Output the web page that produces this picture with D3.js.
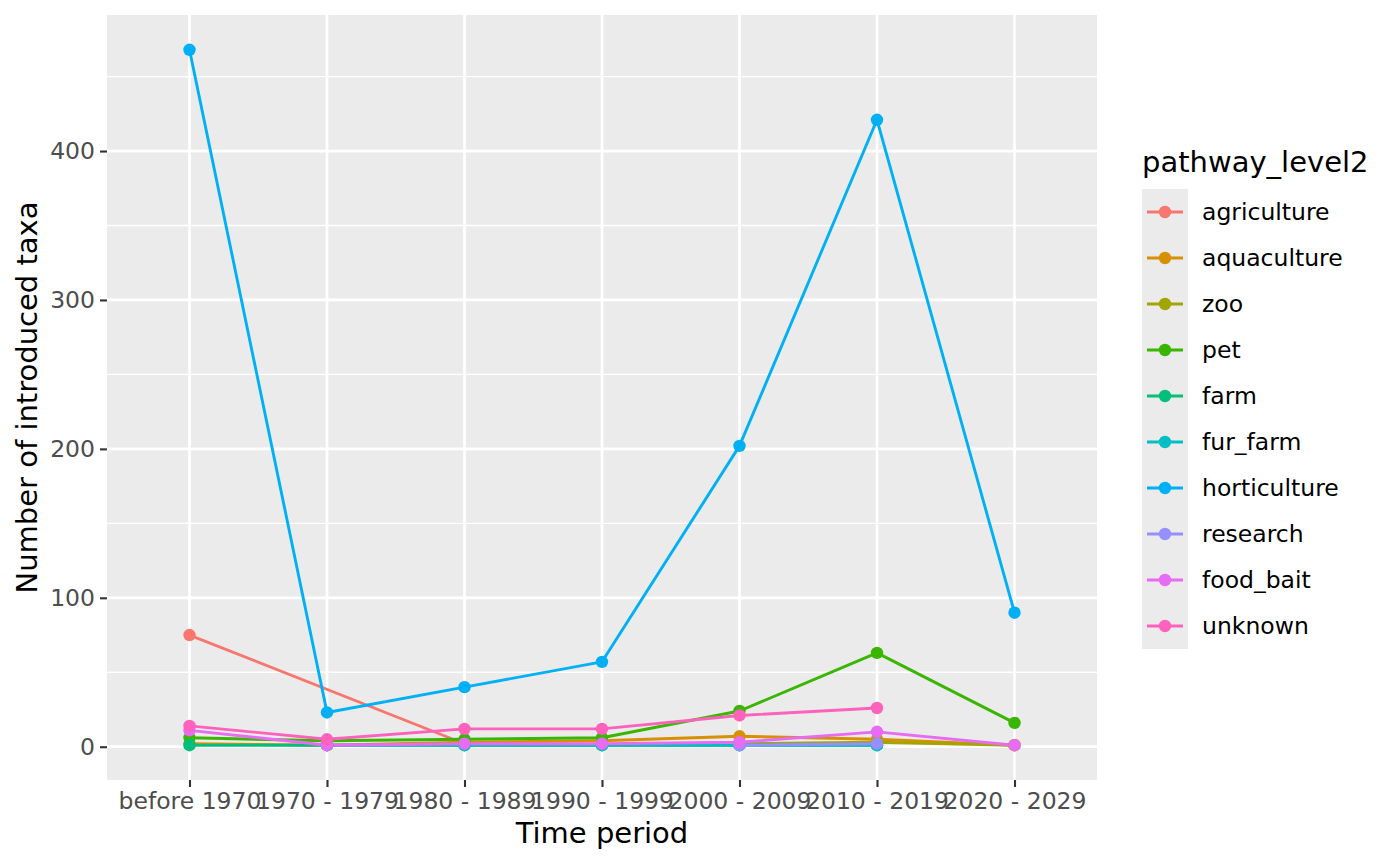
<!DOCTYPE html>
<html>
<head>
<meta charset="utf-8">
<script src="https://cdn.jsdelivr.net/npm/d3@7"></script>
<style>
  body { margin: 0; background: #fff; }
  svg { display: block; font-family: "DejaVu Sans", sans-serif; }
</style>
</head>
<body>
<svg id="chart" width="1400" height="865"></svg>
<script>
const periods = ["before 1970", "1970 - 1979", "1980 - 1989", "1990 - 1999", "2000 - 2009", "2010 - 2019", "2020 - 2029"];
const seriesNames = ["agriculture", "aquaculture", "zoo", "pet", "farm", "fur_farm", "horticulture", "research", "food_bait", "unknown"];
const seriesColors = ["#F8766D", "#D89000", "#A3A500", "#39B600", "#00BF7D", "#00BFC4", "#00B0F6", "#9590FF", "#E76BF3", "#FF62BC"];
const agriculture  = [75, null, 2, null, null, null, null];
const aquaculture  = [2, 1, 3, 4, 7, 5, 1];
const zoo          = [null, null, null, null, 2, 3, 1];
const pet          = [6, 4, 5, 6, 24, 63, 16];
const farm         = [1, 1, 1, 1, 1, 1, null];
const fur_farm     = [null, 1, 1, 1, 1, 1, null];
const horticulture = [468, 23, 40, 57, 202, 421, 90];
const research     = [null, null, null, null, 1, 2, null];
const food_bait    = [11, 1, 2, 2, 3, 10, 1];
const unknown      = [14, 5, 12, 12, 21, 26, null];
const yTicks = [0, 100, 200, 300, 400];
const yMinor = [50, 150, 250, 350, 450];

const seriesValues = [agriculture, aquaculture, zoo, pet, farm, fur_farm, horticulture, research, food_bait, unknown];
const series = seriesNames.map((name, i) => ({
  name, color: seriesColors[i],
  points: periods.map((p, j) => ({ p, v: seriesValues[i][j] })).filter(d => d.v !== null)
}));

const svg = d3.select("#chart");
const L = 107, R = 1097, T = 15, B = 780;

const x = d3.scalePoint().domain(periods).range([L, R]).padding(0.6);
const allV = seriesValues.flat().filter(v => v !== null);
const lo = d3.min(allV), hi = d3.max(allV);
const pad = (hi - lo) * 0.05;
const y = d3.scaleLinear().domain([lo - pad, hi + pad]).range([B, T]);

// panel
svg.append("rect").attr("x", L).attr("y", T).attr("width", R - L).attr("height", B - T).attr("fill", "#EBEBEB");

// minor grid
svg.append("g").selectAll("line").data(yMinor).join("line")
  .attr("x1", L).attr("x2", R).attr("y1", d => y(d)).attr("y2", d => y(d))
  .attr("stroke", "#fff").attr("stroke-width", 1.3);
// major grid
svg.append("g").selectAll("line").data(yTicks).join("line")
  .attr("x1", L).attr("x2", R).attr("y1", d => y(d)).attr("y2", d => y(d))
  .attr("stroke", "#fff").attr("stroke-width", 2.7);
svg.append("g").selectAll("line").data(periods).join("line")
  .attr("y1", T).attr("y2", B).attr("x1", d => x(d)).attr("x2", d => x(d))
  .attr("stroke", "#fff").attr("stroke-width", 2.7);

// axes
const yAxis = d3.axisLeft(y).tickValues(yTicks).tickSize(7).tickPadding(5);
const gy = svg.append("g").attr("transform", `translate(${L},0)`).call(yAxis);
gy.select(".domain").remove();
gy.selectAll(".tick line").attr("stroke", "#333").attr("stroke-width", 2.1);
gy.selectAll(".tick text").attr("fill", "#4D4D4D").style("font-size", "23.5px").style("font-family", "DejaVu Sans");

const xAxis = d3.axisBottom(x).tickSize(7).tickPadding(5);
const gx = svg.append("g").attr("transform", `translate(0,${B})`).call(xAxis);
gx.select(".domain").remove();
gx.selectAll(".tick line").attr("stroke", "#333").attr("stroke-width", 2.1);
gx.selectAll(".tick text").attr("fill", "#4D4D4D").style("font-size", "23.5px").style("font-family", "DejaVu Sans");

// lines
const line = d3.line().x(d => x(d.p)).y(d => y(d.v));
svg.append("g").selectAll("path").data(series).join("path")
  .attr("d", d => line(d.points)).attr("fill", "none")
  .attr("stroke", d => d.color).attr("stroke-width", 2.9).attr("stroke-linejoin", "round");
// points
series.forEach(s => {
  svg.append("g").selectAll("circle").data(s.points).join("circle")
    .attr("cx", d => x(d.p)).attr("cy", d => y(d.v)).attr("r", 6.2).attr("fill", s.color);
});

// axis titles
svg.append("text").attr("x", (L + R) / 2).attr("y", 843).attr("text-anchor", "middle")
  .style("font-size", "29px").attr("fill", "#000").text("Time period");
svg.append("text").attr("transform", `translate(37,${(T + B) / 2}) rotate(-90)`).attr("text-anchor", "middle")
  .style("font-size", "29px").attr("fill", "#000").text("Number of introduced taxa");

// legend
const lg = svg.append("g");
lg.append("text").attr("x", 1142).attr("y", 172).style("font-size", "29px").attr("fill", "#000").text("pathway_level2");
const keyH = 46, keyTop = 189;
lg.append("rect").attr("x", 1142).attr("y", keyTop).attr("width", 46).attr("height", keyH * seriesNames.length).attr("fill", "#EBEBEB");
series.forEach((s, i) => {
  const cy = keyTop + keyH * i + keyH / 2;
  lg.append("line").attr("x1", 1147).attr("x2", 1183).attr("y1", cy).attr("y2", cy)
    .attr("stroke", s.color).attr("stroke-width", 2.9);
  lg.append("circle").attr("cx", 1165).attr("cy", cy).attr("r", 6.2).attr("fill", s.color);
  lg.append("text").attr("x", 1202).attr("y", cy).attr("dy", "0.35em").style("font-size", "23.5px")
    .attr("fill", "#000").text(s.name);
});
</script>
</body>
</html>
